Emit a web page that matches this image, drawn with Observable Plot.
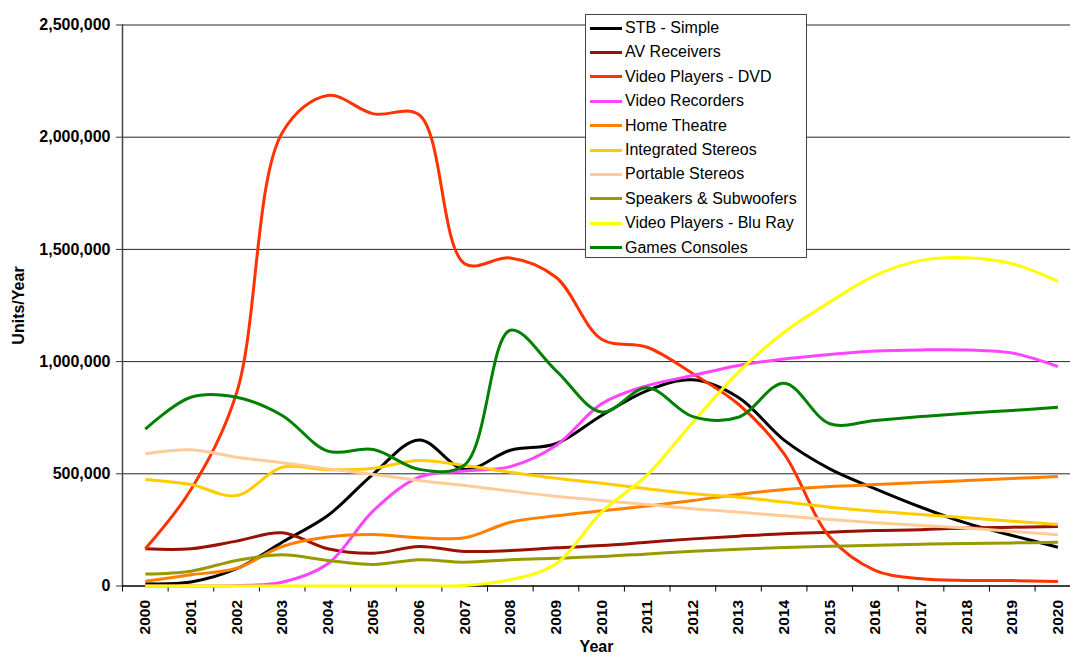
<!DOCTYPE html>
<html>
<head>
<meta charset="utf-8">
<script src="https://cdn.jsdelivr.net/npm/d3@7"></script>
<script src="https://cdn.jsdelivr.net/npm/@observablehq/plot@0.6"></script>
<style>
  html, body { margin: 0; padding: 0; background: #fff; }
  #wrap { position: relative; width: 1070px; height: 657px; overflow: hidden; font-family: "Liberation Sans", Arial, sans-serif; }
  #legend { position: absolute; left: 585px; top: 14px; width: 220px; height: 242px; border: 1px solid #444; background: #fff; box-sizing: content-box; }
  .row { position: absolute; left: 0; height: 20px; display: flex; align-items: center; font-size: 16px; color: #000; white-space: nowrap; }
  .sw { width: 32px; height: 3px; margin-left: 4px; margin-right: 3px; }
</style>
</head>
<body>
<div id="wrap"><div id="legend"></div></div>
<script>
const years = d3.range(2000, 2021);
const seriesNames = ["STB - Simple","AV Receivers","Video Players - DVD","Video Recorders","Home Theatre","Integrated Stereos","Portable Stereos","Speakers & Subwoofers","Video Players - Blu Ray","Games Consoles"];
const seriesColors = ["#000000","#991100","#ff3300","#ff44ff","#ff8000","#ffcc00","#ffcc99","#999900","#ffff00","#008000"];

const stbSimple      = [10000,18000,77000,195000,314000,500000,651000,520000,605000,634000,760000,871000,919000,840000,650000,522000,433000,351000,280000,225000,173000];
const avReceivers    = [166000,166000,200000,237000,166000,146000,176000,154000,158000,170000,180000,195000,210000,222000,233000,240000,247000,251000,259000,262000,265000];
const dvdPlayers     = [166000,430000,860000,2020000,2186000,2104000,2100000,1436000,1462000,1376000,1100000,1064000,946000,810000,589000,218000,69000,32000,25000,24000,20000];
const videoRecorders = [0,0,2000,17000,99000,336000,485000,512000,532000,626000,812000,893000,938000,983000,1012000,1032000,1047000,1052000,1052000,1038000,978000];
const homeTheatre    = [21000,50000,79000,176000,218000,229000,215000,215000,284000,313000,335000,356000,381000,408000,430000,443000,452000,461000,470000,479000,488000];
const intStereos     = [475000,452000,403000,529000,518000,525000,559000,537000,507000,480000,458000,433000,411000,396000,374000,351000,333000,319000,304000,289000,274000];
const portStereos    = [589000,607000,574000,549000,522000,497000,470000,448000,423000,400000,381000,363000,344000,329000,313000,296000,282000,270000,258000,243000,228000];
const speakers       = [53000,66000,114000,139000,114000,96000,117000,106000,117000,124000,131000,143000,155000,164000,172000,177000,182000,186000,189000,192000,195000];
const bluRay         = [0,0,0,0,0,0,0,2000,28000,99000,329000,495000,730000,953000,1131000,1265000,1384000,1451000,1463000,1436000,1358000];
const gamesConsoles  = [699000,841000,841000,760000,601000,608000,520000,540000,1140000,960000,775000,883000,755000,752000,904000,723000,738000,755000,770000,782000,797000];

const yTicks = [0,500000,1000000,1500000,2000000,2500000];

const allSeries = [stbSimple,avReceivers,dvdPlayers,videoRecorders,homeTheatre,intStereos,portStereos,speakers,bluRay,gamesConsoles];
const data = [];
seriesNames.forEach((name, i) => {
  years.forEach((yr, j) => data.push({series: name, year: yr, value: allSeries[i][j]}));
});
const boundaries = years.map(y => y - 0.5);

const font = '"Liberation Sans", Arial, sans-serif';
const chart = Plot.plot({
  width: 1070,
  height: 657,
  marginLeft: 122,
  marginRight: 0,
  marginTop: 24.5,
  marginBottom: 71.5,
  style: {fontFamily: font, fontSize: "15px", color: "#000", background: "#fff", overflow: "visible"},
  x: {domain: [1999.5, 2020.276], axis: null},
  y: {domain: [0, 2500000], axis: null},
  color: {domain: seriesNames, range: seriesColors},
  marks: [
    Plot.gridY(yTicks.filter(d => d > 0), {stroke: "#000", strokeOpacity: 0.85, strokeWidth: 1}),
    Plot.axisY(yTicks, {tickFormat: d3.format(","), tickSize: 6, tickPadding: 6, fontWeight: "bold", fontSize: 16,
      label: "Units/Year", labelAnchor: "center", labelOffset: 110, labelArrow: false, stroke: "#333"}),
    Plot.axisX(boundaries, {tickSize: 6, tickFormat: () => "", label: null, stroke: "#000"}),
    Plot.axisX(years, {tickSize: 0, tickRotate: -90, tickPadding: 14, tickFormat: d => String(d), fontWeight: "bold", fontSize: 15.5,
      label: "Year", labelAnchor: "center", labelOffset: 66, labelArrow: false}),
    Plot.frame({anchor: "left", stroke: "#444", strokeWidth: 1.5}),
    Plot.ruleY([0], {stroke: "#000", strokeWidth: 1.5}),
    Plot.line(data, {x: "year", y: "value", z: "series", stroke: "series", curve: "catmull-rom", strokeWidth: 3, strokeLinejoin: "round", strokeLinecap: "butt"})
  ]
});
chart.querySelectorAll('g[aria-label="y-axis label"] text, g[aria-label="x-axis label"] text').forEach(t => {
  t.setAttribute("font-weight", "bold"); t.setAttribute("font-size", "16");
});
chart.style.position = "absolute";
chart.style.left = "0px";
chart.style.top = "0px";
const wrap = document.getElementById("wrap");
wrap.insertBefore(chart, wrap.firstChild);

const legend = document.getElementById("legend");
seriesNames.forEach((name, i) => {
  const row = document.createElement("div");
  row.className = "row";
  row.style.top = (3 + i * 24.4) + "px";
  const sw = document.createElement("div");
  sw.className = "sw";
  sw.style.background = seriesColors[i];
  const lab = document.createElement("span");
  lab.textContent = name;
  row.appendChild(sw); row.appendChild(lab);
  legend.appendChild(row);
});
</script>
</body>
</html>
